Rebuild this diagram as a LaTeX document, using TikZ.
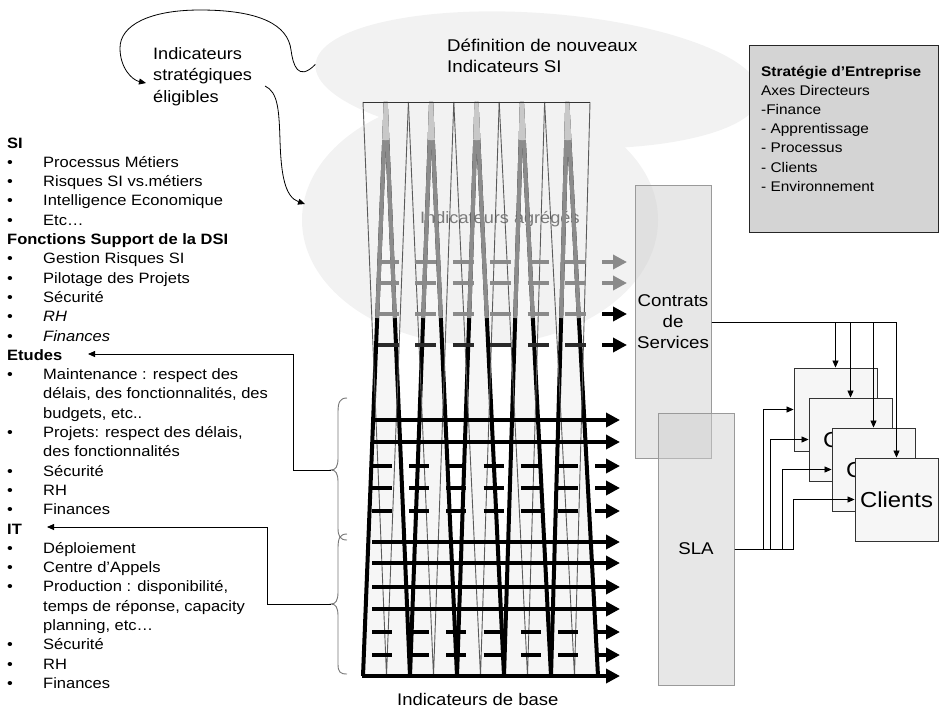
\documentclass[tikz,border=0pt]{standalone}
\usepackage{fontspec}
\setmainfont{Liberation Sans}[FakeStretch=1.1]
\usetikzlibrary{arrows.meta,shapes.geometric,calc}

\definecolor{dither}{HTML}{F2F2F2}
\definecolor{colfill}{HTML}{F6F6F6}
\definecolor{legtop}{HTML}{C8C8C8}
\definecolor{legmid}{HTML}{8C8C8C}
\definecolor{thin}{HTML}{5A5A5A}
\definecolor{rtop}{HTML}{8A8A8A}
\definecolor{rdark}{HTML}{2A2A2A}
\definecolor{boxfill}{HTML}{CFCFCF}
\definecolor{boxline}{HTML}{9A9A9A}
\definecolor{stratfill}{HTML}{D4D4D4}
\definecolor{clfill}{HTML}{F6F6F6}
\definecolor{bracecol}{HTML}{777777}

\newcommand\LY[1]{148+19.3*#1}

\begin{document}
\begin{tikzpicture}[x=1pt,y=-1pt,
  lst/.style={anchor=base west, inner sep=0pt, font=\fontsize{15}{18}\selectfont},
  hd/.style={lst, font=\fontsize{15}{18}\selectfont\bfseries},
  big/.style={anchor=base west, inner sep=0pt, font=\fontsize{16.5}{20}\selectfont},
  strt/.style={anchor=base west, inner sep=0pt, font=\fontsize{14}{17}\selectfont},
  leg/.style={line width=4pt, line cap=butt},
  thinline/.style={draw=thin, line width=0.9pt},
  rung/.style={line width=4.8pt, line cap=butt},
  rowarrow/.style={line width=4.8pt, -{Triangle[length=14pt,width=14pt]}},
  conn/.style={draw=black, line width=0.8pt, -{Triangle[length=7pt,width=6pt]}},
  brace/.style={draw=bracecol, line width=0.9pt},
  svcbox/.style={draw=boxline, line width=1pt, fill=boxfill, fill opacity=0.5,
     text opacity=1, minimum width=76pt, minimum height=273pt, inner sep=0pt,
     align=center, font=\fontsize{17}{21}\selectfont},
  clbox/.style={draw=black!80, line width=0.9pt, fill=clfill, minimum width=83pt,
     minimum height=83pt, inner sep=0pt},
  cltext/.style={inner sep=0pt, font=\fontsize{21.7}{24}\selectfont}
]
\useasboundingbox (0,0) rectangle (939,710);

% ---- shaded ellipses behind the indicator grid
\node[ellipse, fill=dither, minimum width=446pt, minimum height=134pt, inner sep=0pt,
  rotate=-4] (e1) at (538,80) {};
\node[ellipse, fill=dither, minimum width=356pt, minimum height=250pt, inner sep=0pt]
  (e2) at (480,220) {};

% ---- service contracts and SLA
\node[svcbox] (contrats) at (673,321.5) {Contrats\\de\\Services};
\node[svcbox, minimum height=272pt] (sla) at (696,549) {SLA};

% ---- indicator grid
\foreach \i in {0,...,4}{
  \pgfmathsetmacro\tc{363+45.4*\i+22.7}
  \pgfmathsetmacro\bl{363+47*\i}
  \pgfmathsetmacro\br{\bl+47}
  \fill[colfill] (\tc,102) -- (\bl,676) -- (\br,676) -- cycle;
}
\node[anchor=base west, inner sep=0pt, text=black!52, font=\fontsize{16.5}{20}\selectfont]
  (agg) at (420,223) {Indicateurs agrégés};

\foreach \i in {0,...,4}{
  \pgfmathsetmacro\tc{363+45.4*\i+22.7}
  \pgfmathsetmacro\bl{363+47*\i}
  \pgfmathsetmacro\br{\bl+47}
  \draw[leg, draw=black] (\tc,102) -- (\bl,676);
  \draw[leg, draw=black] (\tc,102) -- (\br,676);
  \draw[leg, draw=legmid] (\tc,102) -- ({\tc+(\bl-\tc)*0.376},318);
  \draw[leg, draw=legmid] (\tc,102) -- ({\tc+(\br-\tc)*0.376},318);
  \draw[leg, draw=legtop] (\tc,102) -- ({\tc+(\bl-\tc)*0.066},140);
  \draw[leg, draw=legtop] (\tc,102) -- ({\tc+(\br-\tc)*0.066},140);
}
\foreach \i in {0,...,4}{
  \pgfmathsetmacro\ta{363+45.4*\i}
  \pgfmathsetmacro\tb{\ta+45.4}
  \pgfmathsetmacro\bm{363+47*\i+23.5}
  \draw[thinline] (\ta,102) -- (\bm,676) -- (\tb,102);
}
\draw[thinline, draw=black!80] (363,102) -- (590,102);

% upper (aggregated) rows
\foreach \y/\c/\ac in {262/rtop/rtop, 283/rtop/rtop, 314/rtop/black, 345/rdark/black}{
  \foreach \k in {0,...,5}
    \draw[rung, draw=\c] ({378+37.4*\k},\y) -- ++(21,0);
  \draw[rowarrow, draw=\ac] (602,\y) -- (627,\y);
}
% lower (base) rows
\foreach \y in {466,488,511,632,655}{
  \foreach \k in {0,...,5}
    \draw[rung, draw=black] ({372+37.2*\k},\y) -- ++(20,0);
  \draw[rowarrow, draw=black] (595,\y) -- (620,\y);
}
\foreach \y in {420,442,542,563,587,609}
  \draw[rowarrow, draw=black] (372,\y) -- (620,\y);
\draw[rowarrow, draw=black] (362,676) -- (620,676);

\node[anchor=base west, inner sep=0pt, font=\fontsize{16.8}{20}\selectfont]
  (base) at (397,705) {Indicateurs de base};

% ---- titles
\node[big] (t1) at (153,59) {Indicateurs};
\node[big] (t2) at (153,80.5) {stratégiques};
\node[big] (t3) at (153,102) {éligibles};
\node[anchor=base west, inner sep=0pt, font=\fontsize{17}{20}\selectfont]
  (d1) at (447,51) {Définition de nouveaux};
\node[anchor=base west, inner sep=0pt, font=\fontsize{17}{20}\selectfont]
  (d2) at (447,72) {Indicateurs SI};

\coordinate (loopin) at (146,83);
\coordinate (loopout) at (265,86);
\coordinate (aggin) at (305,204);
\draw[conn] (e1.west) .. controls (298,82) and (293,65) .. (291,50)
   .. controls (288,25) and (260,10) .. (200,10)
   .. controls (150,10) and (120,25) .. (120,48)
   .. controls (120,68) and (132,80) .. (loopin);
\draw[conn] (loopout) .. controls (278,92) and (279,110) .. (280,140)
   .. controls (281,175) and (285,197) .. (aggin);

% ---- left list
\node[hd] (l0) at (7,{\LY{0}}) {SI};
\node[lst] (l1) at (43,{\LY{1}}) {Processus Métiers};
\node[lst] (l2) at (43,{\LY{2}}) {Risques SI vs.métiers};
\node[lst] (l3) at (43,{\LY{3}}) {Intelligence Economique};
\node[lst] (l4) at (43,{\LY{4}}) {Etc…};
\node[hd] (l5) at (7,{\LY{5}}) {Fonctions Support de la DSI};
\node[lst] (l6) at (43,{\LY{6}}) {Gestion Risques SI};
\node[lst] (l7) at (43,{\LY{7}}) {Pilotage des Projets};
\node[lst] (l8) at (43,{\LY{8}}) {Sécurité};
\node[lst] (l9) at (43,{\LY{9}}) {\itshape RH};
\node[lst] (l10) at (43,{\LY{10}}) {\itshape Finances};
\node[hd] (l11) at (7,{\LY{11}}) {Etudes};
\node[lst] (l12) at (43,{\LY{12}}) {Maintenance : respect des};
\node[lst] (l13) at (43,{\LY{13}}) {délais, des fonctionnalités, des};
\node[lst] (l14) at (43,{\LY{14}}) {budgets, etc..};
\node[lst] (l15) at (43,{\LY{15}}) {Projets: respect des délais,};
\node[lst] (l16) at (43,{\LY{16}}) {des fonctionnalités};
\node[lst] (l17) at (43,{\LY{17}}) {Sécurité};
\node[lst] (l18) at (43,{\LY{18}}) {RH};
\node[lst] (l19) at (43,{\LY{19}}) {Finances};
\node[hd] (l20) at (7,{\LY{20}}) {IT};
\node[lst] (l21) at (43,{\LY{21}}) {Déploiement};
\node[lst] (l22) at (43,{\LY{22}}) {Centre d'Appels};
\node[lst] (l23) at (43,{\LY{23}}) {Production : disponibilité,};
\node[lst] (l24) at (43,{\LY{24}}) {temps de réponse, capacity};
\node[lst] (l25) at (43,{\LY{25}}) {planning,  etc…};
\node[lst] (l26) at (43,{\LY{26}}) {Sécurité};
\node[lst] (l27) at (43,{\LY{27}}) {RH};
\node[lst] (l28) at (43,{\LY{28}}) {Finances};
\foreach \k in {1,2,3,4,6,7,8,9,10,12,15,17,18,19,21,22,23,26,27,28}
  \node[lst] (bu\k) at (7,{\LY{\k}}) {•};

% ---- braces and their links to the list
\coordinate (b1tip) at (331,470);
\coordinate (b2tip) at (331,604);
\draw[brace] (347,398) .. controls (340,398) and (338,402) .. (338,412) -- (338,458)
  .. controls (338,466) and (336,470) .. (b1tip)
  .. controls (336,470) and (338,474) .. (338,482) -- (338,528)
  .. controls (338,536) and (340,540) .. (347,540);
\draw[brace] (347,534) .. controls (340,534) and (338,538) .. (338,548) -- (338,592)
  .. controls (338,600) and (336,604) .. (b2tip)
  .. controls (336,604) and (338,608) .. (338,616) -- (338,664)
  .. controls (338,672) and (340,674) .. (347,674);
\coordinate (etin) at (88,354);
\coordinate (itin) at (47,527);
\draw[conn] (b1tip) -- ++(-38,0) |- (etin);
\draw[conn] (b2tip) -- ++(-64,0) |- (itin);

% ---- strategy box
\node[draw=black!85, line width=1pt, fill=stratfill, minimum width=189pt,
  minimum height=187pt, inner sep=0pt] (strat) at (843.5,138.5) {};
\node[strt, font=\fontsize{14}{17}\selectfont\bfseries] (s0) at (761,76) {Stratégie d’Entreprise};
\node[strt] (s1) at (761,95.2) {Axes Directeurs};
\node[strt] (s2) at (761,114.4) {-Finance};
\node[strt] (s3) at (761,133.6) {- Apprentissage};
\node[strt] (s4) at (761,152.8) {- Processus};
\node[strt] (s5) at (761,172) {- Clients};
\node[strt] (s6) at (761,191.2) {- Environnement};

% ---- client boxes
\node[clbox] (cl1) at (835.5,409.5) {};
\node[cltext] at ($(cl1.center)+(9,0)$) {Clients};
\node[clbox] (cl2) at (850.5,439.5) {};
\node[cltext] at ($(cl2.center)+(9,0)$) {Clients};
\node[clbox] (cl3) at (873.5,469.5) {};
\node[cltext] at ($(cl3.center)+(9,0)$) {Clients};
\node[clbox] (cl4) at (896.5,499.5) {};
\node[cltext] at (cl4.center) {Clients};

\coordinate (cs) at (contrats.east |- 0,322);
\coordinate (ss) at (sla.east);
\foreach \k in {1,...,4}
  \draw[conn] (cs) -| (cl\k.north);
\foreach \k/\dx in {1/30,2/38,3/49,4/61}
  \draw[conn] (ss) -| ($(cl\k.west)+(-\dx,0)$) -- (cl\k.west);
\end{tikzpicture}
\end{document}
